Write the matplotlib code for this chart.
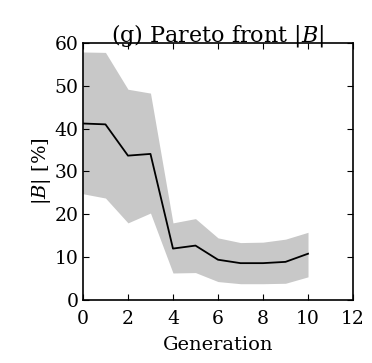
import numpy as np
import matplotlib.pyplot as plt

plt.rcParams['font.family'] = ['DejaVu Serif']
plt.rcParams['mathtext.fontset'] = 'dejavuserif'

# data
generation = [0, 1, 2, 3, 4, 5, 6, 7, 8, 9, 10]
mean_B = [41.2, 41.0, 33.7, 34.1, 12.0, 12.7, 9.4, 8.6, 8.6, 8.9, 10.8]
upper_B = [57.9, 57.8, 49.2, 48.3, 18.0, 19.0, 14.5, 13.4, 13.5, 14.2, 15.8]
lower_B = [24.8, 23.8, 18.0, 20.3, 6.3, 6.4, 4.3, 3.8, 3.8, 3.9, 5.4]

fig = plt.figure(figsize=(3.72, 3.63), dpi=100)
ax = fig.add_axes([0.223, 0.1736, 0.726, 0.708])

ax.fill_between(generation, lower_B, upper_B, color='#c8c8c8', lw=0)
ax.plot(generation, mean_B, color='black', lw=1.3)

ax.set_xlim(0, 12)
ax.set_ylim(0, 60)
ax.set_xticks(np.arange(0, 13, 2))
ax.set_yticks(np.arange(0, 61, 10))
ax.tick_params(direction='in', top=True, right=True, labelsize=13.5, length=4, width=0.8)
ax.tick_params(axis='x', pad=7)
ax.tick_params(axis='y', pad=3)
for s in ax.spines.values():
    s.set_linewidth(1.2)

ax.set_xlabel('Generation', fontsize=14, labelpad=6)
ax.set_ylabel('$|B|$ [%]', fontsize=14, labelpad=1)
ax.set_title('(g) Pareto front $|B|$', fontsize=16, pad=1)

fig.savefig('out.png', dpi=100)
